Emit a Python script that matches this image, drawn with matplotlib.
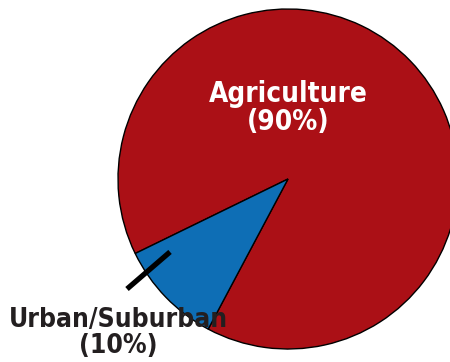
import matplotlib
matplotlib.use('Agg')
import matplotlib.pyplot as plt

labels = ['Agriculture', 'Urban/Suburban']
shares = [90, 10]
colors = ['#ab1016', '#0e6eb5']

plt.rcParams['font.family'] = ['DejaVu Sans Condensed', 'DejaVu Sans']

fig = plt.figure(figsize=(4.5, 3.62), dpi=100)
ax = fig.add_axes([0, 0, 1, 1])

ax.pie(shares, colors=colors, startangle=242, counterclock=True, radius=1.0,
       wedgeprops=dict(edgecolor='black', linewidth=1.0))

# radius of 170 px, centre at (288, 179) px
ax.set_xlim(-288 / 170, 162 / 170)
ax.set_ylim(-183 / 170, 179 / 170)
ax.set_aspect('equal')
ax.axis('off')

ax.text(0.0, 0.415, f'{labels[0]}\n({shares[0]}%)', color='white', fontsize=20,
        fontweight='bold', fontstretch='condensed', ha='center', va='center',
        linespacing=1.0)
ax.text(-1.0, -0.905, f'{labels[1]}\n({shares[1]}%)', color='#231f20', fontsize=19,
        fontweight='bold', fontstretch='condensed', ha='center', va='center',
        linespacing=1.0)

# pointer from the label into the blue slice
ax.plot([-0.947, -0.694], [-0.647, -0.429], color='black', linewidth=3.8,
        solid_capstyle='butt')

fig.savefig('out.png', dpi=100)
